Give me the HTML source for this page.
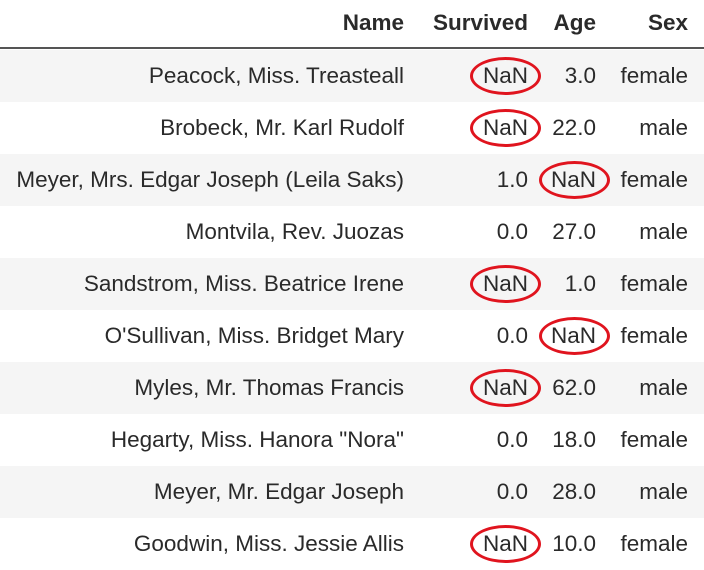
<!DOCTYPE html>
<html><head><meta charset="utf-8"><style>
body{margin:0;width:704px;height:567px;background:#fff;overflow:hidden;font-family:"Liberation Sans",sans-serif;color:#2a2a2a}
.t{position:absolute;font-size:22.5px;text-align:right;line-height:26px;white-space:nowrap}
.h{font-weight:bold}
.row{position:absolute;left:0;width:704px;height:52px}
.g{background:#f5f5f5}
.el{position:absolute;border:3.5px solid #e0141e;border-radius:50%;width:71px;height:38px;box-sizing:border-box}
</style></head><body>
<div id="tbl"></div>
<script>
const names=["Peacock, Miss. Treasteall","Brobeck, Mr. Karl Rudolf","Meyer, Mrs. Edgar Joseph (Leila Saks)","Montvila, Rev. Juozas","Sandstrom, Miss. Beatrice Irene","O'Sullivan, Miss. Bridget Mary","Myles, Mr. Thomas Francis","Hegarty, Miss. Hanora \"Nora\"","Meyer, Mr. Edgar Joseph","Goodwin, Miss. Jessie Allis"];
const survived=["NaN","NaN","1.0","0.0","NaN","0.0","NaN","0.0","0.0","NaN"];
const ages=["3.0","22.0","NaN","27.0","1.0","NaN","62.0","18.0","28.0","10.0"];
const sexes=["female","male","female","male","female","female","male","female","male","female"];
const tbl=document.getElementById('tbl');
function txt(s,right,top,cls,name){const d=document.createElement('div');d.className='t '+(cls||'');d.textContent=s;d.style.right=(704-right)+'px';d.style.top=top+'px';


tbl.appendChild(d);return d;}
const hdr=[["Name",404],["Survived",528],["Age",596],["Sex",688]];
hdr.forEach(h=>txt(h[0],h[1],10,'h','header-'+h[0].toLowerCase()));
const line=document.createElement('div');line.style.cssText='position:absolute;left:0;top:47px;width:704px;height:2px;background:#555';


tbl.appendChild(line);
names.forEach((n,i)=>{
 const top=50+i*52;
 const r=document.createElement('div');r.className='row'+(i%2==0?' g':'');r.style.top=top+'px';
 
 
 tbl.appendChild(r);
 const ty=top+13;
 txt(n,404,ty,'','name-cell');
 txt(survived[i],528,ty,'','survived-cell');
 txt(ages[i],596,ty,'','age-cell');
 txt(sexes[i],688,ty,'','sex-cell');
 if(survived[i]==="NaN"){const e=document.createElement('div');e.className='el';e.style.left='470px';e.style.top=(top+7)+'px';
  
  
  tbl.appendChild(e);}
 if(ages[i]==="NaN"){const e=document.createElement('div');e.className='el';e.style.left='539px';e.style.top=(top+7)+'px';
  
  
  tbl.appendChild(e);}
});
</script>
</body></html>
